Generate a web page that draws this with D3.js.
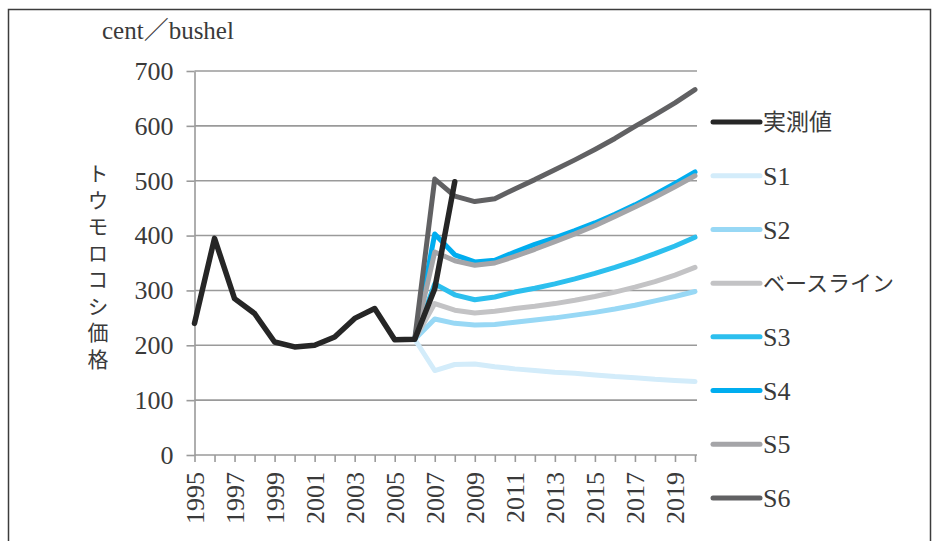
<!DOCTYPE html>
<html>
<head>
<meta charset="utf-8">
<script src="https://cdn.jsdelivr.net/npm/d3@7"></script>
<style>
  html, body { margin: 0; padding: 0; background: #fff; }
  svg { display: block; }
  .serif { font-family: 'Liberation Serif', 'Times New Roman', 'Noto Sans CJK JP', serif; }
  .jp { font-family: 'Noto Sans CJK JP', 'Liberation Serif', serif; }
</style>
</head>
<body>
<svg id="chart" width="938" height="541"></svg>
<script>
// Observed corn price, 1995–2008 (cent/bushel)
const actualYears = [1995, 1996, 1997, 1998, 1999, 2000, 2001, 2002, 2003, 2004, 2005, 2006, 2007, 2008];
const actualValues = [240, 395, 285, 258, 206, 197, 200, 215, 249, 267, 210, 211, 303, 498];

// Scenario projections, 2006–2020
const scenarioYears = [2006, 2007, 2008, 2009, 2010, 2011, 2012, 2013, 2014, 2015, 2016, 2017, 2018, 2019, 2020];
const s1 = [211, 154, 165, 166, 161, 157, 154, 151, 149, 146, 143, 141, 138, 136, 134];
const s2 = [211, 248, 240, 237, 238, 242, 246, 250, 255, 260, 266, 273, 281, 289, 298];
const baseline = [211, 276, 264, 259, 262, 267, 271, 276, 282, 289, 297, 306, 316, 328, 342];
const s3 = [211, 312, 292, 283, 288, 297, 304, 312, 321, 331, 342, 354, 367, 381, 397];
const s4 = [211, 403, 365, 352, 355, 370, 384, 396, 409, 423, 439, 456, 475, 495, 516];
const s5 = [211, 370, 354, 346, 350, 362, 375, 389, 403, 418, 435, 452, 470, 489, 509];
const s6 = [211, 503, 472, 462, 467, 485, 502, 520, 538, 557, 577, 599, 620, 642, 666];

// Axis settings
const allYears = d3.range(1995, 2021);
const yTicks = [0, 100, 200, 300, 400, 500, 600, 700];

// Legend / series names
const seriesNames = ["実測値", "S1", "S2", "ベースライン", "S3", "S4", "S5", "S6"];

const colors = {
  "実測値": "#262626",
  "S1": "#d3ecfa",
  "S2": "#98d8f5",
  "ベースライン": "#c3c3c5",
  "S3": "#2cbfee",
  "S4": "#00adef",
  "S5": "#a5a5a8",
  "S6": "#616163"
};

const series = [
  { name: "実測値", years: actualYears, values: actualValues },
  { name: "S1", years: scenarioYears, values: s1 },
  { name: "S2", years: scenarioYears, values: s2 },
  { name: "ベースライン", years: scenarioYears, values: baseline },
  { name: "S3", years: scenarioYears, values: s3 },
  { name: "S4", years: scenarioYears, values: s4 },
  { name: "S5", years: scenarioYears, values: s5 },
  { name: "S6", years: scenarioYears, values: s6 }
];

const textColor = "#3a3a3a";
const axisColor = "#9a9a9a";

const svg = d3.select("#chart");

// Outer frame
svg.append("rect")
  .attr("x", 8.5).attr("y", 9.5)
  .attr("width", 922).attr("height", 560)
  .attr("fill", "none")
  .attr("stroke", "#3c3c3c")
  .attr("stroke-width", 1.5);

const x = d3.scaleLinear().domain([1995, 2020]).range([194.5, 695]);
const y = d3.scaleLinear().domain([0, 700]).range([455, 71]);
const plotRight = 697;

// Horizontal gridlines
svg.append("g")
  .selectAll("line")
  .data(yTicks.filter(d => d > 0))
  .join("line")
  .attr("x1", x(1995)).attr("x2", plotRight)
  .attr("y1", d => y(d)).attr("y2", d => y(d))
  .attr("stroke", axisColor)
  .attr("stroke-width", 1.6);

// Y axis
const yAxis = svg.append("g")
  .attr("transform", `translate(${x(1995)},0)`)
  .call(d3.axisLeft(y).tickValues(yTicks).tickSize(8).tickPadding(13).tickSizeOuter(0));
yAxis.attr("font-family", null);
yAxis.select(".domain").attr("stroke", axisColor).attr("stroke-width", 1.6);
yAxis.selectAll(".tick line").attr("stroke", axisColor).attr("stroke-width", 1.6);
yAxis.selectAll(".tick text")
  .attr("class", "serif")
  .attr("font-size", 26)
  .attr("fill", textColor);

// X axis: tick at every year, label on every other year
const xAxis = svg.append("g")
  .attr("transform", `translate(0,${y(0)})`)
  .call(d3.axisBottom(x)
    .tickValues(allYears)
    .tickSize(7)
    .tickSizeOuter(0)
    .tickFormat(d => ((d - 1995) % 2 === 0 ? String(d) : "")));
xAxis.attr("font-family", null);
xAxis.select(".domain")
  .attr("d", `M${x(1995)},0H${plotRight}`)
  .attr("stroke", axisColor).attr("stroke-width", 1.6);
xAxis.selectAll(".tick line").attr("stroke", axisColor).attr("stroke-width", 1.6);
xAxis.selectAll(".tick text")
  .attr("class", "serif")
  .attr("font-size", 26)
  .attr("fill", textColor)
  .attr("text-anchor", "end")
  .attr("dy", "0.33em")
  .attr("transform", "translate(0,17) rotate(-90)")
  .attr("x", 0).attr("y", 0);

// Unit label
svg.append("text")
  .attr("class", "serif")
  .attr("x", 102).attr("y", 39)
  .attr("font-size", 25)
  .attr("fill", textColor)
  .text("cent／bushel");

// Vertical axis title
svg.append("text")
  .attr("class", "jp")
  .attr("x", 98).attr("y", 163)
  .attr("font-size", 21)
  .attr("fill", textColor)
  .style("writing-mode", "vertical-rl")
  .style("text-orientation", "upright")
  .attr("letter-spacing", 5.5)
  .text("トウモロコシ価格");

// Series lines (observed values drawn on top)
const line = d3.line()
  .x(d => x(d[0]))
  .y(d => y(d[1]));

const drawOrder = series.slice(1).concat(series.slice(0, 1));
svg.append("g")
  .selectAll("path")
  .data(drawOrder)
  .join("path")
  .attr("d", s => line(s.years.map((yr, i) => [yr, s.values[i]])))
  .attr("fill", "none")
  .attr("stroke", s => colors[s.name])
  .attr("stroke-width", s => s.name === "実測値" ? 5.5 : 5)
  .attr("stroke-linejoin", "round")
  .attr("stroke-linecap", "round");

// Legend
const legend = svg.append("g");
const legendY = d3.scalePoint().domain(seriesNames).range([122, 498]);
const items = legend.selectAll("g")
  .data(seriesNames)
  .join("g")
  .attr("transform", d => `translate(713,${legendY(d)})`);
items.append("line")
  .attr("x1", 0).attr("x2", 47)
  .attr("stroke", d => colors[d])
  .attr("stroke-width", 5)
  .attr("stroke-linecap", "round");
items.append("text")
  .attr("class", d => /^S\d$/.test(d) ? "serif" : "jp")
  .attr("x", 50).attr("dy", "0.35em")
  .attr("font-size", d => /^S\d$/.test(d) ? 26 : (d.length > 3 ? 22 : 23))
  .attr("fill", textColor)
  .text(d => d);
</script>
</body>
</html>
